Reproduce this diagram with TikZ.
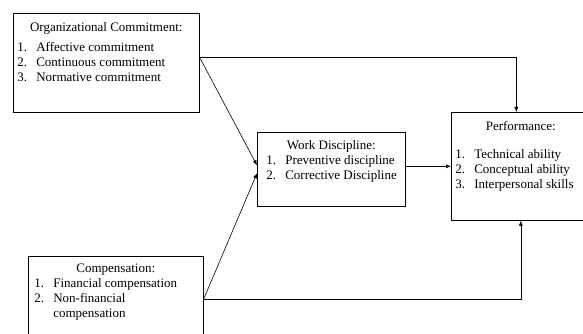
\documentclass[tikz,border=0pt]{standalone}
\usepackage{fontspec}
\setmainfont{Liberation Serif}
\usetikzlibrary{arrows.meta,positioning}

\newcommand{\boxtitle}[1]{{\centering #1\par}}
\newcommand{\boxitem}[2]{\makebox[19pt][l]{#1}#2\par}

\begin{document}
\begin{tikzpicture}[
    x=1pt, y=-1pt,
    font=\fontsize{13}{15}\selectfont,
    box/.style={rectangle, draw, line width=0.6pt, inner sep=0pt, anchor=north west},
    arrow/.style={line width=0.6pt, -{Latex[length=5pt,width=4pt]}}
]
\clip (0,0) rectangle (583,334);
% Nodes
\node[box] (org) at (13,13) {\parbox[t][99pt][t]{186pt}{\vspace*{9pt}%
    \boxtitle{Organizational Commitment:}\vspace{5pt}\leftskip=4pt
    \boxitem{1.}{Affective commitment}
    \boxitem{2.}{Continuous commitment}
    \boxitem{3.}{Normative commitment}}};
\node[box] (wd) at (257,132) {\parbox[t][74pt][t]{148pt}{\vspace*{8pt}%
    \boxtitle{Work Discipline:}\leftskip=9pt
    \boxitem{1.}{Preventive discipline}
    \boxitem{2.}{Corrective Discipline}}};
\node[box] (perf) at (451,112) {\parbox[t][108pt][t]{139pt}{\vspace*{9pt}%
    \boxtitle{Performance:}\vspace{13pt}\leftskip=4pt
    \boxitem{1.}{Technical ability}
    \boxitem{2.}{Conceptual ability}
    \boxitem{3.}{Interpersonal skills}}};
\node[box] (comp) at (28,256) {\parbox[t][86pt][t]{175pt}{\vspace*{8pt}%
    \boxtitle{Compensation:}\leftskip=6pt
    \boxitem{1.}{Financial compensation}
    \boxitem{2.}{Non-financial\\ \hspace*{19pt}compensation}}};

% Arrows
\draw[arrow] ([yshift=5.5pt]org.east) -| ([xshift=-4.5pt]perf.north);
\draw[arrow] ([yshift=5.5pt]org.east) -- ([yshift=4pt]wd.west);
\draw[arrow] (comp.east) -- ([yshift=-4pt]wd.west);
\draw[arrow] (wd.east |- perf.west) -- (perf.west);
\draw[arrow] (comp.east) -| (perf.south);
\end{tikzpicture}
\end{document}
